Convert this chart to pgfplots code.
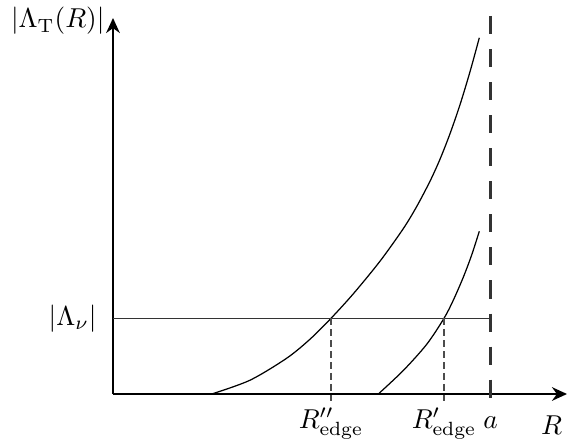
\documentclass[border=0pt]{standalone}
\usepackage{pgfplots}
\pgfplotsset{compat=1.18}
\usetikzlibrary{arrows.meta}

\begin{document}
\begin{tikzpicture}
\begin{axis}[
    x=0.366pt, y=0.366pt,
    xmin=0, xmax=454,
    ymin=0, ymax=376,
    axis lines=left,
    axis line style={line width=0.8pt, -{Stealth[length=5.5pt,width=5pt,inset=1.8pt]}},
    xtick=\empty, ytick=\empty,
    clip=false,
]
% curves
\addplot[black, line width=0.45pt, smooth] coordinates {
    (98.7,0) (137,13.8) (173.7,35.8) (197,54.8) (218,75.7) (240.3,100.2)
    (267,132.8) (290.3,165.4) (303.7,187.5) (317,212.8) (327,234.8)
    (337,260.3) (347,289.3) (357,322.3) (366.3,356.2)
};
\addplot[black, line width=0.45pt, smooth] coordinates {
    (265.3,0) (290.3,23.5) (313.7,49.7) (331,75.7) (340.3,93.8)
    (350.3,116.8) (358.7,139.1) (366.3,162.7)
};
% level |Lambda_nu|
\addplot[black!80, line width=0.45pt] coordinates {(0,75.7) (377.7,75.7)};
% R = a
\addplot[black!80, line width=0.9pt, dash pattern=on 6.6pt off 5.5pt]
    coordinates {(377.7,378) (377.7,-6)};
% edges
\addplot[black!70, line width=0.4pt, dash pattern=on 2.6pt off 1.4pt]
    coordinates {(218,75.7) (218,-7)};
\addplot[black!70, line width=0.4pt, dash pattern=on 2.6pt off 1.4pt]
    coordinates {(331,75.7) (331,-7)};

% labels
\node[anchor=base east, inner sep=0pt] at (axis cs:-8,366) {$|\Lambda_{\mathrm{T}}(R)|$};
\node[anchor=east, inner sep=0pt] at (axis cs:-16,75.7) {$|\Lambda_\nu|$};
\node[anchor=base, inner sep=0pt] at (axis cs:218,-34) {$R''_{\mathrm{edge}}$};
\node[anchor=base, inner sep=0pt] at (axis cs:331,-34) {$R'_{\mathrm{edge}}$};
\node[anchor=base, inner sep=0pt] at (axis cs:377.7,-34) {$a$};
\node[anchor=base, inner sep=0pt] at (axis cs:438.7,-40) {$R$};

% page extent
\path (axis cs:-113,394) (axis cs:456,-51);
\end{axis}
\end{tikzpicture}
\end{document}
